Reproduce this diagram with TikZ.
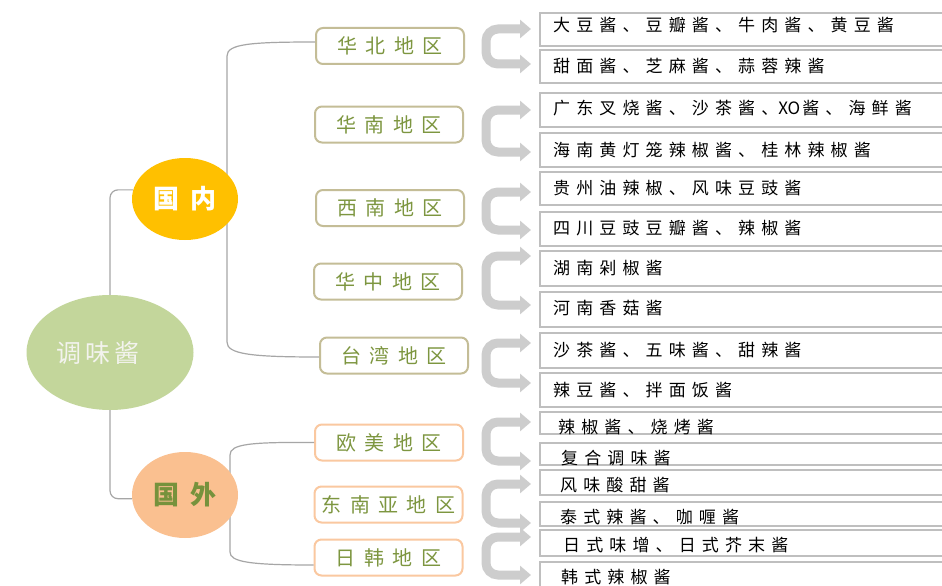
\documentclass[tikz,border=0pt]{standalone}
\usepackage{fontspec}
\usetikzlibrary{arrows.meta,shapes.geometric}
\newfontfamily\cjk{Noto Sans CJK SC}
\newfontfamily\itemf[LetterSpace=36]{Noto Sans CJK SC}
\newfontfamily\regf[LetterSpace=42]{Noto Sans CJK SC}
\newfontfamily\rootf[LetterSpace=16]{Noto Sans CJK SC}
\newfontfamily\mainf[LetterSpace=42]{Noto Sans CJK SC}
\definecolor{rootgreen}{HTML}{C3D69B}
\definecolor{roottext}{HTML}{F3F3EE}
\definecolor{domyellow}{HTML}{FFC000}
\definecolor{frnorange}{HTML}{FAC090}
\definecolor{frntext}{HTML}{76923C}
\definecolor{regtext}{HTML}{7D9640}
\definecolor{domborder}{HTML}{C4BD97}
\definecolor{frnborder}{HTML}{FAC8A0}
\definecolor{boxgray}{HTML}{BFBFBF}
\definecolor{brkgray}{HTML}{CDCDCD}
\definecolor{conngray}{HTML}{A6A6A6}
\tikzset{
  Btip/.tip={Triangle[width=18pt,length=11pt]},
  conn/.style={draw=conngray, line width=1.2pt},
  brk/.style={draw=brkgray, line width=9pt, rounded corners=12pt, Btip-Btip},
  ibox/.style={draw=boxgray, line width=2pt, fill=white, minimum width=420pt, inner sep=0pt, rectangle},
  itext/.style={anchor=west, inner sep=0pt, text=black, font=\itemf\fontsize{17}{19}\selectfont},
  rbox/.style={rectangle, rounded corners=7pt, line width=2pt, fill=white, minimum width=148pt, minimum height=36pt, inner sep=0pt, text=regtext, font=\regf\fontsize{20}{22}\selectfont},
  dom/.style={rbox, draw=domborder},
  frn/.style={rbox, draw=frnborder},
  bubble/.style={ellipse, inner sep=0pt}
}
\begin{document}
\begin{tikzpicture}[x=1pt,y=-1pt]
\clip (0,0) rectangle (942,586);
\fill[white] (0,0) rectangle (942,586);

% region boxes
\node[dom] (hb) at (390,46) {华北地区};
\node[dom] (hn) at (389,124.5) {华南地区};
\node[dom] (xn) at (390,208) {西南地区};
\node[dom] (hz) at (388,281.5) {华中地区};
\node[dom] (tw) at (394,355.5) {台湾地区};
\node[frn] (om) at (389,442.5) {欧美地区};
\node[frn] (dny) at (388.5,504.5) {东南亚地区};
\node[frn] (rh) at (388.5,557.5) {日韩地区};

% connectors
\draw[conn] ([yshift=4pt]hb.west) .. controls (250,42) and (227,44) .. (227,56) -- (227,342) .. controls (227,354) and (250,357) .. ([yshift=-1.5pt]tw.west);
\draw[conn] (om.west) .. controls (250,442) and (230,444) .. (230,455) -- (230,552) .. controls (230,562) and (250,565) .. ([yshift=-7.5pt]rh.west);

% main bubbles
\node[bubble, fill=rootgreen, minimum width=167pt, minimum height=115pt, text=roottext, font=\rootf\fontsize{25}{27}\selectfont] (root) at (110,352.5) {\hbox{调味酱\hbox to 24pt{}}};
\node[bubble, fill=domyellow, minimum width=106pt, minimum height=82pt, text=white, font=\mainf\bfseries\fontsize{26}{28}\selectfont] (gn) at (185,199) {国内};
\node[bubble, fill=frnorange, minimum width=106pt, minimum height=86pt, text=frntext, font=\mainf\bfseries\fontsize{26}{28}\selectfont] (gw) at (185,495) {国外};

\draw[conn, rounded corners=8pt] (root.north) |- (gn.170);
\draw[conn, rounded corners=8pt] (root.south) |- (gw.184);

% item boxes
\node[ibox, minimum height=33pt] (i1) at (750,29.5) {};
\node[ibox, minimum height=33pt] (i2) at (750,66.5) {};
\node[ibox, minimum height=34pt] (i3) at (750,110) {};
\node[ibox, minimum height=34pt] (i4) at (750,150) {};
\node[ibox, minimum height=33pt] (i5) at (750,188.5) {};
\node[ibox, minimum height=34pt] (i6) at (750,229) {};
\node[ibox, minimum height=35pt] (i7) at (750,268.5) {};
\node[ibox, minimum height=35pt] (i8) at (750,309.5) {};
\node[ibox, minimum height=35pt] (i9) at (750,350.5) {};
\node[ibox, minimum height=34pt] (i10) at (750,390) {};
\node[ibox, minimum height=22pt] (i11) at (750,423) {};
\node[ibox, minimum height=22pt] (i12) at (750,454) {};
\node[ibox, minimum height=25pt] (i13) at (750,482.5) {};
\node[ibox, minimum height=24pt] (i14) at (750,514) {};
\node[ibox, minimum height=26pt] (i15) at (750,543) {};
\node[ibox, minimum height=38pt] (i16) at (750,581) {};

% item texts
\node[itext] (t1) at (553,25) {大豆酱、豆瓣酱、牛肉酱、黄豆酱};
\node[itext] (t2) at (553,66) {甜面酱、芝麻酱、蒜蓉辣酱};
\node[itext] (t3) at (553,108) {广东叉烧酱、沙茶酱、{\cjk XO}\hspace{2pt}酱、海鲜酱};
\node[itext] (t4) at (553,150) {海南黄灯笼辣椒酱、桂林辣椒酱};
\node[itext] (t5) at (553,188) {贵州油辣椒、风味豆豉酱};
\node[itext] (t6) at (553,228) {四川豆豉豆瓣酱、辣椒酱};
\node[itext] (t7) at (553,268) {湖南剁椒酱};
\node[itext] (t8) at (553,308) {河南香菇酱};
\node[itext] (t9) at (553,350) {沙茶酱、五味酱、甜辣酱};
\node[itext] (t10) at (553,390) {辣豆酱、拌面饭酱};
\node[itext] (t11) at (558,427) {辣椒酱、烧烤酱};
\node[itext] (t12) at (561,458) {复合调味酱};
\node[itext] (t13) at (560,485) {风味酸甜酱};
\node[itext] (t14) at (560,517) {泰式辣酱、咖喱酱};
\node[itext] (t15) at (563,545) {日式味增、日式芥末酱};
\node[itext] (t16) at (561,577) {韩式辣椒酱};

% brackets
\coordinate (a1) at (531,29);  \coordinate (b1) at (531,64);
\coordinate (a2) at (531,110); \coordinate (b2) at (531,152);
\coordinate (a3) at (531,192); \coordinate (b3) at (531,230);
\coordinate (a4) at (531,256); \coordinate (b4) at (531,305);
\coordinate (a5) at (531,343); \coordinate (b5) at (531,383);
\coordinate (a6) at (531,422); \coordinate (b6) at (531,461);
\coordinate (a7) at (531,484); \coordinate (b7) at (531,523);
\coordinate (a8) at (531,537); \coordinate (b8) at (531,575);
\foreach \k in {1,...,8}{
  \draw[brk] (a\k) -- ++(-45,0) |- (b\k);
}
\end{tikzpicture}
\end{document}
